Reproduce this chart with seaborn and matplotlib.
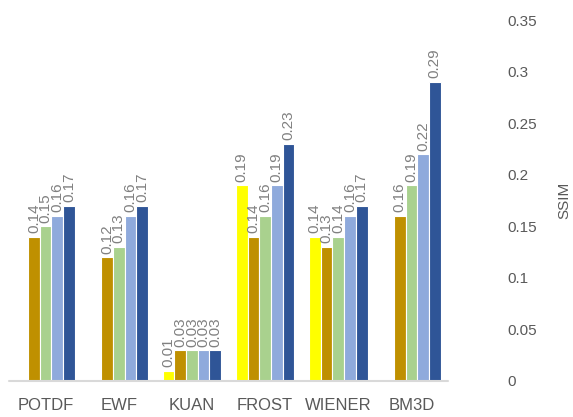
import numpy as np
import pandas as pd
import seaborn as sns
from matplotlib import pyplot as plt

methods = ["POTDF", "EWF", "KUAN", "FROST", "WIENER", "BM3D"]
series = ["s1", "s2", "s3", "s4", "s5"]
s1 = [np.nan, np.nan, 0.01, 0.19, 0.14, np.nan]
s2 = [0.14, 0.12, 0.03, 0.14, 0.13, 0.16]
s3 = [0.15, 0.13, 0.03, 0.16, 0.14, 0.19]
s4 = [0.16, 0.16, 0.03, 0.19, 0.16, 0.22]
s5 = [0.17, 0.17, 0.03, 0.23, 0.17, 0.29]
yticks = [0, 0.05, 0.1, 0.15, 0.2, 0.25, 0.3, 0.35]
ytick_labels = ["0", "0.05", "0.1", "0.15", "0.2", "0.25", "0.3", "0.35"]
colors = ["#FFFF00", "#BF9000", "#A9D18E", "#8FAADC", "#2F5597"]

rows = []
for name, vals in zip(series, [s1, s2, s3, s4, s5]):
    for m, v in zip(methods, vals):
        rows.append({"method": m, "series": name, "ssim": v})
df = pd.DataFrame(rows)

sns.set_style("white")
plt.rcParams["font.family"] = ["Liberation Sans", "DejaVu Sans"]

fig = plt.figure(figsize=(5.73, 4.17), dpi=100)
ax = fig.add_axes([9/573, 36/417, 439/573, 361/417])

sns.barplot(data=df, x="method", y="ssim", hue="series", palette=colors,
            order=methods, hue_order=series, width=0.8, saturation=1, ax=ax,
            edgecolor="white", linewidth=0.8, legend=False)

for cont in ax.containers:
    for bar in cont:
        h = bar.get_height()
        if np.isnan(h):
            continue
        ax.annotate("%.2f" % h, (bar.get_x() + bar.get_width()/2, h),
                    xytext=(0, 2.5), textcoords="offset points",
                    rotation=90, ha="center", va="bottom",
                    fontsize=11, color="#808080")

ax.set_ylim(0, 0.35)
ax.set_xlim(-0.5, 5.5)
ax.set_yticks(yticks)
ax.set_yticklabels(ytick_labels)
ax.yaxis.tick_right()
ax.tick_params(axis="y", length=0, pad=43, labelsize=11, labelcolor="#595959")
ax.tick_params(axis="x", length=0, pad=12, labelsize=12, labelcolor="#595959")
for s in ax.spines.values():
    s.set_visible(False)
ax.axhline(0, color="#D9D9D9", lw=1.5, clip_on=False)

ax.set_xlabel("")
ax.yaxis.set_label_position("right")
ax.set_ylabel("SSIM", fontsize=11, color="#595959", rotation=90)
ax.yaxis.set_label_coords(1.25, 0.5)

fig.savefig("out.png", dpi=100)
